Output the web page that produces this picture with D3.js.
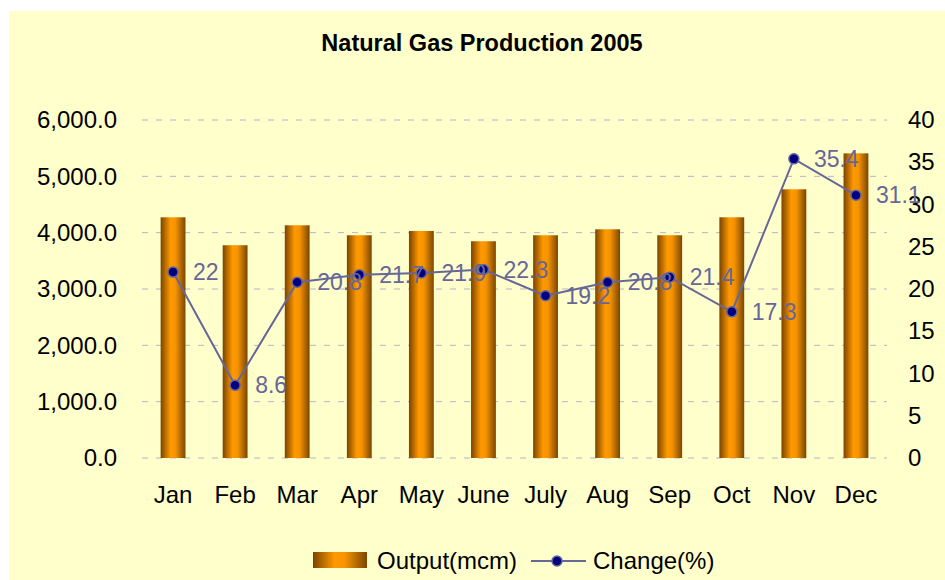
<!DOCTYPE html>
<html>
  <head>
    <meta charset="utf-8">
    <title>Natural Gas Production 2005</title>
    <script src="https://d3js.org/d3.v7.min.js"></script>
    <style>
      body { margin: 0; background: #ffffff; }
      text { font-family: Arial, "Liberation Sans", sans-serif; }
    </style>
  </head>
  <body>
    <script>
        // Data
        var months = ["Jan", "Feb", "Mar", "Apr", "May", "June", "July", "Aug", "Sep", "Oct", "Nov", "Dec"];
        var output = [4273, 3777, 4131, 3954, 4030, 3848, 3954, 4060, 3954, 4273, 4770, 5408];
        var change = [22, 8.6, 20.8, 21.7, 21.9, 22.3, 19.2, 20.8, 21.4, 17.3, 35.4, 31.1];
        var leftTicks = [0, 1000, 2000, 3000, 4000, 5000, 6000];
        var rightTicks = [0, 5, 10, 15, 20, 25, 30, 35, 40];

        var width = 945, height = 580;
        var plot = {left: 142, right: 887, top: 120, bottom: 458};
        var fontSize = "24px";

        var svg = d3.select("body").append("svg")
            .attr("width", width)
            .attr("height", height);

        // bar gradient
        var grad = svg.append("defs").append("linearGradient")
            .attr("id", "barGrad")
            .attr("x1", "0%").attr("x2", "100%")
            .attr("y1", "0%").attr("y2", "0%");
        grad.append("stop").attr("offset", "0%").attr("stop-color", "#7a4400");
        grad.append("stop").attr("offset", "40%").attr("stop-color", "#ff9900");
        grad.append("stop").attr("offset", "60%").attr("stop-color", "#f59300");
        grad.append("stop").attr("offset", "100%").attr("stop-color", "#7a4600");

        // background
        svg.append("rect")
            .attr("x", 9).attr("y", 11)
            .attr("width", width - 9).attr("height", height - 11)
            .attr("fill", "#ffffcc");

        var x = d3.scaleBand()
            .domain(months)
            .range([plot.left, plot.right])
            .paddingInner(0.6)
            .paddingOuter(0.3);

        var y = d3.scaleLinear().domain([0, 6000]).range([plot.bottom, plot.top]);
        var y2 = d3.scaleLinear().domain([0, 40]).range([plot.bottom, plot.top]);

        // gridlines
        svg.append("g")
            .selectAll("line")
            .data(leftTicks)
            .enter()
            .append("line")
                .attr("x1", plot.left)
                .attr("x2", plot.right)
                .attr("y1", function(d) { return y(d); })
                .attr("y2", function(d) { return y(d); })
                .attr("stroke", "#b4b4c8")
                .attr("stroke-width", 1)
                .attr("stroke-dasharray", "6,8");

        // left axis
        var leftAxis = svg.append("g")
            .attr("transform", "translate(" + (plot.left - 25) + ",0)")
            .call(d3.axisLeft(y).tickValues(leftTicks).tickFormat(d3.format(",.1f")).tickSize(0).tickPadding(0));
        leftAxis.select(".domain").remove();
        leftAxis.selectAll("text")
            .attr("font-family", "Arial, 'Liberation Sans', sans-serif")
            .attr("font-size", fontSize)
            .attr("fill", "#000");

        // right axis
        var rightAxis = svg.append("g")
            .attr("transform", "translate(" + (plot.right + 21) + ",0)")
            .call(d3.axisRight(y2).tickValues(rightTicks).tickSize(0).tickPadding(0));
        rightAxis.select(".domain").remove();
        rightAxis.selectAll("text")
            .attr("font-family", "Arial, 'Liberation Sans', sans-serif")
            .attr("font-size", fontSize)
            .attr("fill", "#000");

        // bottom axis
        var bottomAxis = svg.append("g")
            .attr("transform", "translate(0," + plot.bottom + ")")
            .call(d3.axisBottom(x).tickSize(0).tickPadding(28));
        bottomAxis.select(".domain").remove();
        bottomAxis.selectAll("text")
            .attr("font-family", "Arial, 'Liberation Sans', sans-serif")
            .attr("font-size", fontSize)
            .attr("fill", "#000");

        // bars
        svg.append("g")
            .selectAll("rect")
            .data(output)
            .enter()
            .append("rect")
                .attr("x", function(d, i) { return x(months[i]); })
                .attr("y", function(d) { return y(d); })
                .attr("width", x.bandwidth())
                .attr("height", function(d) { return plot.bottom - y(d); })
                .attr("fill", "url(#barGrad)");

        // line
        var cx = function(i) { return x(months[i]) + x.bandwidth() / 2; };
        var line = d3.line()
            .x(function(d, i) { return cx(i); })
            .y(function(d) { return y2(d); });

        svg.append("path")
            .datum(change)
            .attr("d", line)
            .attr("fill", "none")
            .attr("stroke", "#666699")
            .attr("stroke-width", 2);

        svg.append("g")
            .selectAll("circle")
            .data(change)
            .enter()
            .append("circle")
                .attr("cx", function(d, i) { return cx(i); })
                .attr("cy", function(d) { return y2(d); })
                .attr("r", 5)
                .attr("fill", "#000080")
                .attr("stroke", "#666699")
                .attr("stroke-width", 1.5);

        svg.append("g")
            .selectAll("text")
            .data(change)
            .enter()
            .append("text")
                .attr("x", function(d, i) { return cx(i) + 20; })
                .attr("y", function(d) { return y2(d); })
                .attr("dy", "0.35em")
                .attr("font-size", "23px")
                .attr("fill", "#666699")
                .text(function(d) { return d; });

        // title
        svg.append("text")
            .attr("text-anchor", "middle")
            .attr("x", 482)
            .attr("y", 51)
            .attr("font-size", "23.5px")
            .attr("font-weight", "bold")
            .text("Natural Gas Production 2005");

        // legend
        var legend = svg.append("g");
        legend.append("rect")
            .attr("x", 313).attr("y", 552)
            .attr("width", 54).attr("height", 16)
            .attr("fill", "url(#barGrad)");
        legend.append("text")
            .attr("x", 377).attr("y", 569)
            .attr("font-size", fontSize)
            .text("Output(mcm)");
        legend.append("line")
            .attr("x1", 531).attr("x2", 586)
            .attr("y1", 561).attr("y2", 561)
            .attr("stroke", "#666699")
            .attr("stroke-width", 2);
        legend.append("circle")
            .attr("cx", 557).attr("cy", 561)
            .attr("r", 5)
            .attr("fill", "#000080")
            .attr("stroke", "#666699")
            .attr("stroke-width", 1.5);
        legend.append("text")
            .attr("x", 593).attr("y", 569)
            .attr("font-size", fontSize)
            .text("Change(%)");
    </script>
  </body>
</html>
